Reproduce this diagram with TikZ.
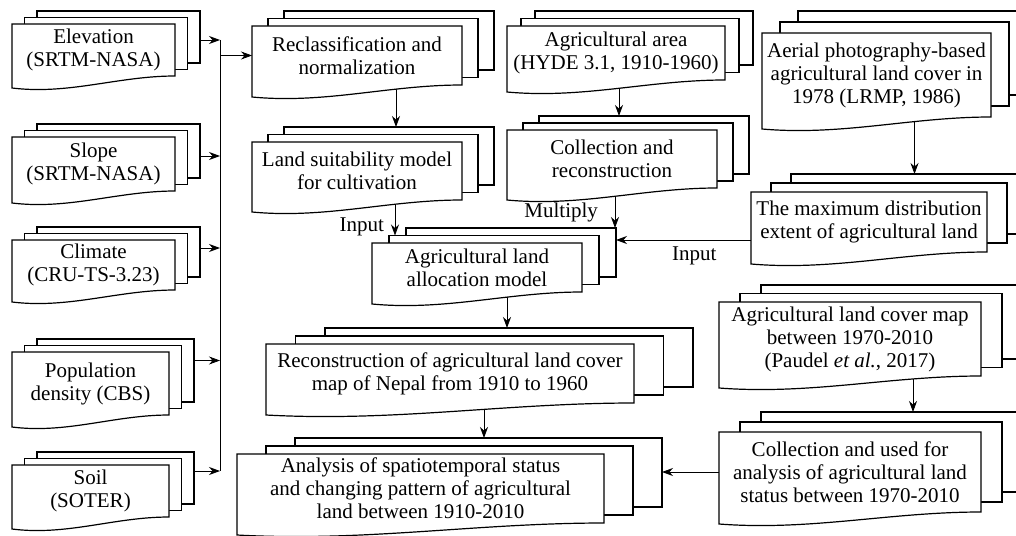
\documentclass[tikz,border=0pt]{standalone}
\usepackage{fontspec}
\setmainfont{Liberation Serif}
\usepackage{tikz}
\usetikzlibrary{arrows.meta,backgrounds}

\tikzset{
  backdoc/.style={draw, fill=white, inner sep=0pt, outer sep=0pt},
  doctext/.style={inner sep=0pt, outer sep=0pt, align=center, font=\fontsize{10.5}{11.5}\selectfont},
  lbl/.style={font=\fontsize{10.5}{11.5}\selectfont},
  flow/.style={-{Stealth[length=5.5pt,width=4pt]}},
}

% stacked document: name, left, top, right, bottom, dx, dy, text (pixel units)
\newcommand{\multidoc}[8]{%
  \pgfmathsetmacro{\docw}{(#4-#2)/2}%
  \pgfmathsetmacro{\doch}{(#5-#3)/2}%
  \node[backdoc, minimum width=\docw pt, minimum height=\doch pt] (#1-3) at ({(#2+#4)/2+2*#6},{(#3+#5)/2-2*#7}) {};
  \node[backdoc, minimum width=\docw pt, minimum height=\doch pt] (#1-2) at ({(#2+#4)/2+#6},{(#3+#5)/2-#7}) {};
  \draw[fill=white] (#2,#3) -- (#4,#3) -- (#4,#5)
    .. controls ({#2+0.65*(#4-#2)},#5) and ({#2+0.35*(#4-#2)},{#5+19}) .. (#2,{#5+12}) -- cycle;
  \node[doctext, minimum width=\docw pt, minimum height=\doch pt] (#1) at ({(#2+#4)/2},{(#3+#5)/2}) {#8};
}

\begin{document}
\begin{tikzpicture}[x=0.5pt, y=-0.5pt, line width=0.6pt]
  \useasboundingbox (0,0) rectangle (1016,535);

  % Input data
  \foreach \n/\l/\t/\r/\b/\txt in {elev/12/24/175/76/{Elevation\\(SRTM-NASA)},
      slope/12/137/175/191/{Slope\\(SRTM-NASA)},
      clim/12/240/175/290/{Climate\\(CRU-TS-3.23)},
      pop/12/352/169/415/{Population\\density (CBS)},
      soil/12/465/169/517/{Soil\\(SOTER)}}
    {\multidoc{\n}{\l}{\t}{\r}{\b}{12.5}{6.5}{\txt}}

  % Model chain
  \multidoc{reclass}{252}{26}{462}{85}{16}{7.5}{Reclassification and\\normalization}
  \multidoc{landsuit}{252}{142}{462}{200}{16}{7.5}{Land suitability model\\for cultivation}
  \multidoc{agri}{507}{26}{725}{80}{14}{7.5}{Agricultural area\\(HYDE 3.1, 1910-1960)}
  \multidoc{collect}{507}{130}{717}{188}{16}{7}{Collection and\\reconstruction}
  \multidoc{alloc}{372}{243}{582}{292}{17}{7.5}{Agricultural land\\allocation model}
  \multidoc{recon}{266}{344}{634}{403}{29.5}{8}{Reconstruction of agricultural land cover\\map of Nepal from 1910 to 1960}
  \multidoc{analysis}{237}{454}{604}{523}{29}{8}{Analysis of spatiotemporal status\\and changing pattern of agricultural\\land between 1910-2010}

  % Land cover sources
  \multidoc{aerial}{762}{33}{991}{117}{18}{11}{Aerial photography-based\\agricultural land cover in\\1978 (LRMP, 1986)}
  \multidoc{maxdist}{751}{192}{987}{252}{20}{9}{The maximum distribution\\extent of agricultural land}
  \multidoc{landcov}{719}{302}{981}{376}{21}{8.5}{Agricultural land cover map\\between 1970-2010\\(Paudel \textit{et al.}, 2017)}
  \multidoc{collused}{719}{432}{981}{512}{21}{10}{Collection and used for\\analysis of agricultural land\\status between 1970-2010}

  \coordinate (bus) at (220,0);

  \begin{scope}[on background layer]
    % inputs into the bus
    \foreach \n/\s in {elev/3, slope/5, clim/-4, pop/-10, soil/-7}
      \draw[flow] ([shift={(0,\s)}]\n-3.east) -- ([shift={(0,\s)}]\n-3.east -| bus) coordinate (in-\n);
    \draw (in-elev) -- (in-soil);
    \draw[flow] (bus |- reclass.west) -- (reclass.west);

    % vertical links
    \draw[flow] ([shift={(39,0)}]reclass.center) -- ([shift={(39,0)}]reclass.center |- landsuit-3.north);
    \draw[flow] ([shift={(38,0)}]landsuit.center) -- ([shift={(38,0)}]landsuit.center |- alloc-2.north)
      node[lbl, left=2pt, pos=0.87] (input-a) {Input};
    \draw[flow] ([shift={(3,0)}]agri.center) -- ([shift={(3,0)}]agri.center |- collect-3.north);
    \draw[flow] ([shift={(3,0)}]collect.center) -- ([shift={(3,0)}]collect.center |- alloc-3.north)
      node[lbl, left=5pt, pos=0.77] (multiply) {Multiply};
    \draw[flow] ([shift={(38,0)}]aerial.center) -- ([shift={(38,0)}]aerial.center |- maxdist-3.north);
    \draw[flow] ([shift={(30,0)}]alloc.center) -- ([shift={(30,0)}]alloc.center |- recon-3.north);
    \draw[flow] ([shift={(34,0)}]recon.center) -- ([shift={(34,0)}]recon.center |- analysis-3.north);
    \draw[flow] ([shift={(63,0)}]landcov.center) -- ([shift={(63,0)}]landcov.center |- collused-3.north);

    % horizontal links
    \draw[flow] ([shift={(0,18)}]maxdist.west) -- ([shift={(0,18)}]maxdist.west -| alloc-3.east)
      node[lbl, below, pos=0.42] (input-b) {Input};
    \draw[flow] (collused.west) -- (collused.west -| analysis-3.east);
  \end{scope}
\end{tikzpicture}
\end{document}
